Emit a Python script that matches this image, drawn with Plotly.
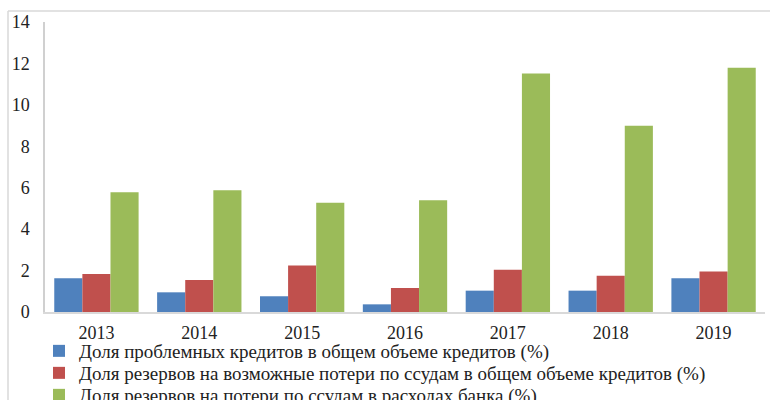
import plotly.graph_objects as go

years = ["2013", "2014", "2015", "2016", "2017", "2018", "2019"]
problem_loans = [1.63, 0.95, 0.76, 0.37, 1.03, 1.03, 1.63]
reserves_share = [1.84, 1.55, 2.24, 1.16, 2.04, 1.75, 1.95]
reserves_expenses = [5.78, 5.88, 5.28, 5.40, 11.51, 8.99, 11.79]

names = [
    "Доля проблемных кредитов в общем объеме кредитов (%)",
    "Доля резервов на возможные потери по ссудам в общем объеме кредитов (%)",
    "Доля резервов на потери по ссудам в расходах банка (%)",
]
colors = ["#4F81BD", "#C0504D", "#9BBB59"]
series = [problem_loans, reserves_share, reserves_expenses]
legend_ids = ["legend", "legend2", "legend3"]
legend_rows_px = [351, 373, 395]

FONT = "Liberation Serif"
W, H = 770, 400
ML, MR, MT, MB = 45, 5, 22, 88

fig = go.Figure()
for nm, vals, col, lg in zip(names, series, colors, legend_ids):
    fig.add_trace(go.Bar(x=years, y=vals, name=nm, legend=lg, showlegend=True,
                         marker=dict(color=col, line=dict(width=0))))

pw = W - ML - MR
ph = H - MT - MB
fig.add_shape(
    type="line", xref="paper", yref="paper",
    x0=(8 - ML) / pw, x1=(W - ML) / pw, y0=(H - MB - 11) / ph, y1=(H - MB - 11) / ph,
    line=dict(color="#D9D9D9", width=1.5),
)
fig.add_shape(
    type="line", xref="paper", yref="paper",
    x0=(8 - ML) / pw, x1=(8 - ML) / pw, y0=(H - MB - 11) / ph, y1=-MB / ph,
    line=dict(color="#D9D9D9", width=1.5),
)

legend_style = dict(
    orientation="v", xref="container", yref="container",
    x=39 / W, xanchor="left", yanchor="middle",
    font=dict(family=FONT, size=19, color="#222222"),
    bgcolor="rgba(0,0,0,0)", visible=True,
)
legends = {}
for lg, ypx in zip(legend_ids, legend_rows_px):
    legends[lg] = dict(legend_style, y=1 - ypx / H)

fig.update_layout(
    width=W, height=H, showlegend=True,
    margin=dict(l=ML, r=MR, t=MT, b=MB, autoexpand=False),
    paper_bgcolor="white", plot_bgcolor="white",
    barmode="group", bargap=0.18, bargroupgap=0,
    font=dict(family=FONT, size=17, color="#222222"),
    xaxis=dict(
        showgrid=False, showline=True, linecolor="#D9D9D9", linewidth=1.5,
        ticks="", ticklabelstandoff=4, tickfont=dict(family=FONT, size=18),
    ),
    yaxis=dict(
        range=[0, 14], dtick=2, showgrid=False, showline=True,
        linecolor="#D0D0D0", linewidth=1.5, ticks="", zeroline=False,
        ticklabelstandoff=10, tickfont=dict(family=FONT, size=18),
    ),
    **legends,
)

fig.write_html(
    "out.html",
    config={"displayModeBar": False},
    post_script="document.body.style.margin='0';document.body.style.overflow='hidden';",
)
